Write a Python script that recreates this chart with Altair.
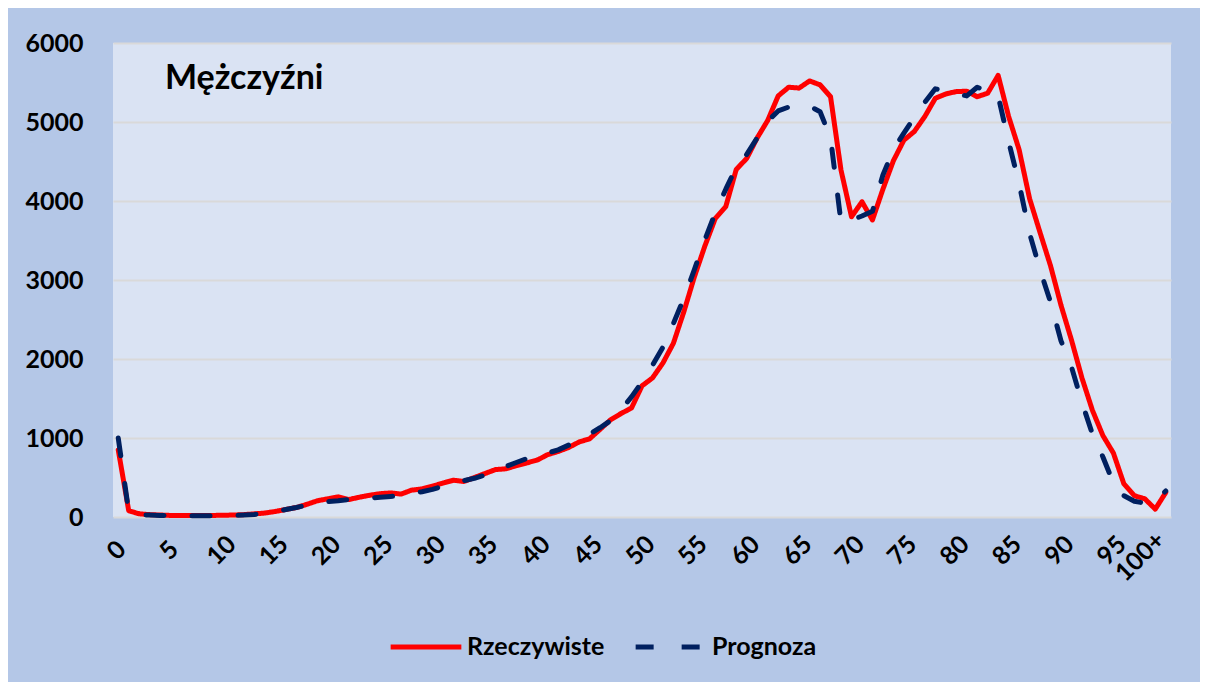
import altair as alt
import pandas as pd

ages = list(range(101))
tick_values = list(range(0, 101, 5))
y_ticks = [0, 1000, 2000, 3000, 4000, 5000, 6000]

rzeczywiste = [
    850, 80, 40, 30, 25, 20, 20, 20, 20, 20,
    22, 25, 30, 40, 50, 70, 95, 120, 160, 205,
    230, 255, 220, 250, 275, 295, 305, 290, 340, 355,
    390, 430, 465, 450, 500, 550, 600, 610, 650, 685,
    720, 790, 830, 880, 950, 990, 1110, 1230, 1310, 1380,
    1660, 1760, 1950, 2200, 2600, 3040, 3430, 3780, 3930, 4400,
    4540, 4800, 5020, 5330, 5440, 5430, 5520, 5470, 5320, 4390,
    3800, 3990, 3760, 4150, 4510, 4770, 4880, 5070, 5300, 5355,
    5385, 5390, 5320, 5365, 5590, 5070, 4650, 4030, 3600, 3180,
    2680, 2240, 1760, 1350, 1030, 810, 420, 270, 230, 100,
    310,
]

prognoza = [
    1000, 70, 30, 25, 20, 18, 15, 15, 15, 15,
    15, 18, 25, 32, 45, 65, 95, 120, 150, 175,
    195, 205, 220, 230, 240, 250, 260, 270, 300, 320,
    350, 390, 430, 460, 490, 530, 580, 640, 690, 740,
    770, 810, 850, 910, 980, 1050, 1130, 1220, 1360, 1520,
    1710, 1920, 2150, 2450, 2770, 3130, 3510, 3850, 4150, 4430,
    4590, 4800, 5010, 5140, 5190, 5210, 5200, 5130, 4800, 3730,
    3760, 3810, 3870, 4330, 4650, 4860, 5060, 5250, 5420, 5390,
    5360, 5330, 5440, 5390, 5330, 4750, 4220, 3590, 3130, 2720,
    2230, 1900, 1450, 1050, 760, 430, 270, 200, 175, 200,
    330,
]

series_names = ["Rzeczywiste", "Prognoza"]
colors = ["#FF0000", "#002060"]
title_text = "Mężczyźni"

df_r = pd.DataFrame({"wiek": ages, "wartosc": rzeczywiste, "seria": series_names[0]})
df_p = pd.DataFrame({"wiek": ages, "wartosc": prognoza, "seria": series_names[1]})

FONT = "Lato"

x_enc = alt.X(
    "wiek:Q",
    scale=alt.Scale(domain=[-0.5, 100.5], nice=False, zero=False),
    axis=alt.Axis(
        values=tick_values,
        labelExpr="datum.value == 100 ? '100+' : datum.label",
        labelAngle=-45,
        labelAlign="center",
        labelBaseline="middle",
        labelPadding={"condition": {"test": "datum.value == 100", "value": 39}, "value": 33},
        labelOffset={"condition": {"test": "datum.value == 100", "value": -26}, "value": -2},
        labelOverlap=False,
        labelFlush=False,
        ticks=False,
        domain=False,
        grid=False,
        title=None,
    ),
)
y_enc = alt.Y(
    "wartosc:Q",
    scale=alt.Scale(domain=[0, 6000], nice=False),
    axis=alt.Axis(
        values=y_ticks,
        format="d",
        ticks=False,
        domain=False,
        labelPadding=30,
        labelFlush=False,
        gridColor="#D9D9D9",
        gridWidth=2,
        title=None,
    ),
)
color_enc = alt.Color(
    "seria:N",
    scale=alt.Scale(domain=series_names, range=colors),
    legend=alt.Legend(
        title=None,
        orient="none",
        direction="horizontal",
        legendX=275,
        legendY=566,
        symbolType="stroke",
        symbolSize=5000,
        symbolStrokeWidth=5,
        labelFontSize=25,
        labelFont=FONT,
        labelFontWeight="bold",
        labelColor="#000000",
        labelOffset=3,
        columnPadding=20,
    ),
)
dash_enc = alt.StrokeDash(
    "seria:N",
    scale=alt.Scale(domain=series_names, range=[[1, 0], [18, 28]]),
    legend=None,
)

red = alt.Chart(df_r).mark_line(strokeWidth=5, strokeCap="round", strokeJoin="round").encode(
    x=x_enc, y=y_enc, color=color_enc, strokeDash=dash_enc
)
blue = alt.Chart(df_p).mark_line(strokeWidth=5, strokeCap="round", strokeJoin="round").encode(
    x=x_enc, y=y_enc, color=color_enc, strokeDash=dash_enc
)
title_layer = alt.Chart(pd.DataFrame({"t": [title_text]})).mark_text(
    align="left", baseline="middle", fontSize=34, font=FONT, fontWeight="bold", color="#000000"
).encode(x=alt.value(52), y=alt.value(36), text="t:N")

chart = (
    alt.layer(red, blue, title_layer)
    .properties(
        width=1058,
        height=474,
        autosize=alt.AutoSizeParams(type="none"),
        padding={"left": 105, "top": 35, "right": 29, "bottom": 165},
    )
    .configure(background="#B4C7E7")
    .configure_view(fill="#DAE3F3", stroke=None)
    .configure_axis(labelFont=FONT, labelFontSize=25, labelFontWeight="bold", labelColor="#000000")
)

chart.save("out.html", embed_options={"renderer": "svg", "actions": False})
